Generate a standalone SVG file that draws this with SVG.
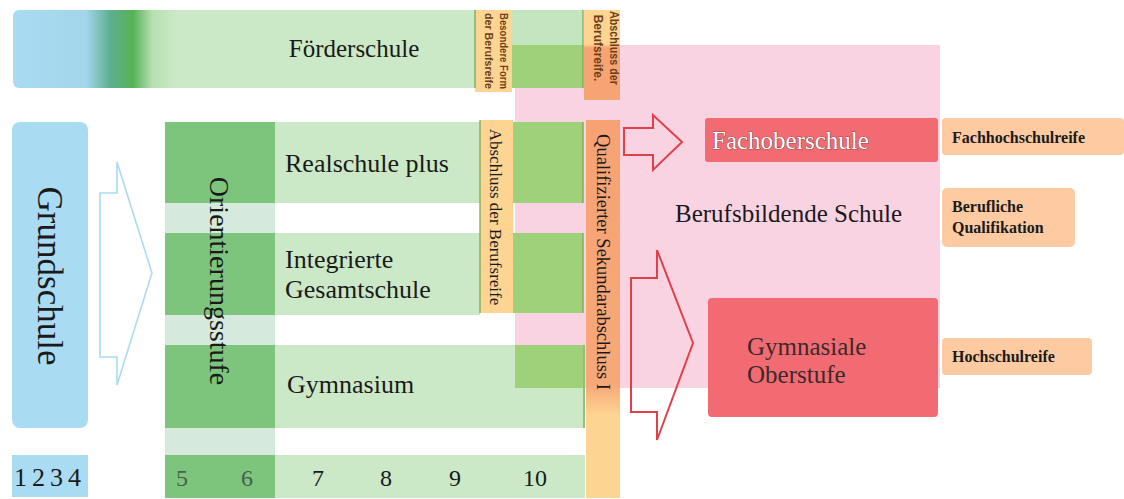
<svg xmlns="http://www.w3.org/2000/svg" width="1124" height="499" viewBox="0 0 1124 499">
<defs>
<linearGradient id="gFoer" x1="13" y1="0" x2="175" y2="0" gradientUnits="userSpaceOnUse">
<stop offset="0" stop-color="#a9dbf3"/>
<stop offset="0.45" stop-color="#a3d6ea"/>
<stop offset="0.6" stop-color="#5fae90"/>
<stop offset="0.74" stop-color="#56b356"/>
<stop offset="0.86" stop-color="#b6dfaf"/>
<stop offset="1" stop-color="#cbe9c6"/>
</linearGradient>
<linearGradient id="gQual" x1="0" y1="120" x2="0" y2="498" gradientUnits="userSpaceOnUse">
<stop offset="0" stop-color="#f7a274"/>
<stop offset="0.7" stop-color="#f7a878"/>
<stop offset="0.78" stop-color="#fdd491"/>
<stop offset="1" stop-color="#fdd491"/>
</linearGradient>
<linearGradient id="gAbsTop" x1="0" y1="10" x2="0" y2="100" gradientUnits="userSpaceOnUse">
<stop offset="0" stop-color="#fdd491"/>
<stop offset="0.38" stop-color="#fdd491"/>
<stop offset="0.42" stop-color="#f7a474"/>
<stop offset="1" stop-color="#f7a474"/>
</linearGradient>
<style>
.serif{font-family:"Liberation Serif","Times New Roman",serif;fill:#1a1a1a}
.sans{font-family:"Liberation Sans",Arial,sans-serif;fill:#6e3f17;font-weight:bold}
.lg{fill:#cbe9c6}
.dg{fill:#7dc47c}
.gap{fill:#d5eadc}
.yg{fill:#9fd07a}
.lab{fill:#fdd491}
.peach{fill:#fdcaa2}
.red{fill:#f26b73}
.edge{stroke:#6fa24a;stroke-width:1.2;fill:none}
.res{font-family:"Liberation Serif","Times New Roman",serif;font-weight:bold;font-size:16px;fill:#1a1a1a}
</style>
</defs>
<rect width="1124" height="499" fill="#ffffff"/>

<!-- pink background of vocational area -->
<rect id="pinkArea" x="515" y="45" width="425" height="343" fill="#fad3e3"/>

<g id="foerderschule">
<rect x="13" y="10" width="470" height="78" rx="6" fill="url(#gFoer)"/>
<rect x="512" y="10" width="71" height="35" fill="#c3e6c0"/>
<rect x="512" y="45" width="71" height="43" class="yg"/>
<line x1="583" y1="10" x2="583" y2="88" class="edge"/>
<text class="serif" x="354" y="57" font-size="25" text-anchor="middle">Förderschule</text>
</g>

<g id="besondereForm">
<rect x="475" y="10" width="37" height="82" class="lab"/>
<line x1="475" y1="10" x2="475" y2="88" class="edge"/>
<g transform="translate(494,51) rotate(90)">
<text class="sans" x="0" y="-6" font-size="11" text-anchor="middle" textLength="76" lengthAdjust="spacingAndGlyphs">Besondere Form</text>
<text class="sans" x="0" y="9" font-size="11" text-anchor="middle" textLength="76" lengthAdjust="spacingAndGlyphs">der Berufsreife</text>
</g>
</g>

<g id="abschlussTop">
<rect x="584" y="10" width="36" height="90" fill="url(#gAbsTop)"/>
<g transform="translate(603,48) rotate(90)">
<text class="sans" x="0" y="-7" font-size="12" text-anchor="middle" textLength="74" lengthAdjust="spacingAndGlyphs">Abschluss der</text>
<text class="sans" x="0" y="9" font-size="12" text-anchor="middle">Berufsreife.</text>
</g>
</g>

<g id="grundschule">
<rect x="12" y="122" width="76" height="306" rx="8" fill="#a9dbf3"/>
<text class="serif" transform="translate(50,276) rotate(90)" x="0" y="12" font-size="35" text-anchor="middle">Grundschule</text>
</g>

<g id="klassen1bis4">
<rect x="12" y="455" width="76" height="42" fill="#a9dbf3"/>
<text class="serif" x="50" y="486" font-size="26" text-anchor="middle" letter-spacing="5">1234</text>
</g>

<g id="orientierungsstufe">
<rect x="165" y="122" width="110" height="81" class="dg"/>
<rect x="165" y="203" width="110" height="30" class="gap"/>
<rect x="165" y="233" width="110" height="82" class="dg"/>
<rect x="165" y="315" width="110" height="30" class="gap"/>
<rect x="165" y="345" width="110" height="83" class="dg"/>
<rect x="165" y="428" width="110" height="27" class="gap"/>
<text class="serif" transform="translate(220,281) rotate(90)" x="0" y="10" font-size="28" text-anchor="middle">Orientierungsstufe</text>
</g>

<g id="realschulePlus">
<rect x="275" y="122" width="205" height="81" class="lg"/>
<rect x="513" y="122" width="70" height="81" class="yg"/>
<line x1="583" y1="122" x2="583" y2="203" class="edge"/>
<text class="serif" x="285" y="172" font-size="26">Realschule plus</text>
</g>

<g id="integrierteGesamtschule">
<rect x="275" y="233" width="205" height="82" class="lg"/>
<rect x="513" y="233" width="70" height="80" class="yg"/>
<line x1="583" y1="233" x2="583" y2="313" class="edge"/>
<text class="serif" x="285" y="268" font-size="26">Integrierte</text>
<text class="serif" x="285" y="298" font-size="26">Gesamtschule</text>
</g>

<g id="gymnasium">
<rect x="275" y="345" width="310" height="83" class="lg"/>
<rect x="515" y="345" width="68" height="43" class="yg"/>
<line x1="584" y1="345" x2="584" y2="428" class="edge"/>
<text class="serif" x="287" y="393" font-size="26">Gymnasium</text>
</g>

<g id="abschlussBerufsreife">
<rect x="480" y="120" width="33" height="193" class="lab"/>
<line x1="480" y1="120" x2="480" y2="313" class="edge"/>
<text class="serif" transform="translate(496,217) rotate(90)" x="0" y="6" font-size="17" text-anchor="middle">Abschluss der Berufsreife</text>
</g>

<g id="klassen5bis10">
<rect x="165" y="455" width="110" height="43" class="dg"/>
<rect x="275" y="455" width="310" height="43" class="lg"/>
<text class="serif" x="182" y="486" font-size="24" text-anchor="middle" style="fill:#45624a">5</text>
<text class="serif" x="247" y="486" font-size="24" text-anchor="middle" style="fill:#45624a">6</text>
<text class="serif" x="318" y="486" font-size="24" text-anchor="middle">7</text>
<text class="serif" x="386" y="486" font-size="24" text-anchor="middle">8</text>
<text class="serif" x="455" y="486" font-size="24" text-anchor="middle">9</text>
<text class="serif" x="535" y="486" font-size="24" text-anchor="middle">10</text>
</g>

<g id="qualifizierterSekundarabschluss">
<rect x="586" y="120" width="34" height="378" fill="url(#gQual)"/>
<text class="serif" transform="translate(603,262) rotate(90)" x="0" y="6" font-size="18.5" text-anchor="middle">Qualifizierter Sekundarabschluss I</text>
</g>

<g id="berufsbildendeSchule">
<text class="serif" x="675" y="222" font-size="25">Berufsbildende Schule</text>
</g>

<g id="fachoberschule">
<rect x="705" y="118" width="233" height="44" rx="3" class="red"/>
<text x="712" y="149" font-size="25" font-family="Liberation Serif, Times New Roman, serif" fill="#ffffff" stroke="#4a2a2a" stroke-width="0.7" paint-order="stroke">Fachoberschule</text>
</g>

<g id="gymnasialeOberstufe">
<rect x="708" y="298" width="230" height="119" rx="4" class="red"/>
<text class="serif" x="747" y="355" font-size="25" style="fill:#3a2a2a">Gymnasiale</text>
<text class="serif" x="747" y="383" font-size="25" style="fill:#3a2a2a">Oberstufe</text>
</g>

<g id="fachhochschulreife">
<rect x="942" y="118" width="182" height="37" rx="4" class="peach"/>
<text class="res" x="952" y="143">Fachhochschulreife</text>
</g>

<g id="beruflicheQualifikation">
<rect x="942" y="188" width="133" height="59" rx="5" class="peach"/>
<text class="res" x="952" y="212">Berufliche</text>
<text class="res" x="952" y="233">Qualifikation</text>
</g>

<g id="hochschulreife">
<rect x="942" y="338" width="150" height="37" rx="4" class="peach"/>
<text class="res" x="952" y="362">Hochschulreife</text>
</g>

<g id="connectors">
<path d="M100,193 L117,193 L117,162 L152,273 L117,385 L117,357 L100,357 Z" fill="#ffffff" stroke="#a9dbf3" stroke-width="1.6"/>
<path d="M624,128 L653,128 L653,115 L682,142 L653,170 L653,155 L624,155 Z" fill="none" stroke="#e0404a" stroke-width="2"/>
<path d="M631,278 L657,278 L657,250 L693,343 L657,440 L657,412 L631,412 Z" fill="none" stroke="#e0404a" stroke-width="2"/>
</g>
</svg>
